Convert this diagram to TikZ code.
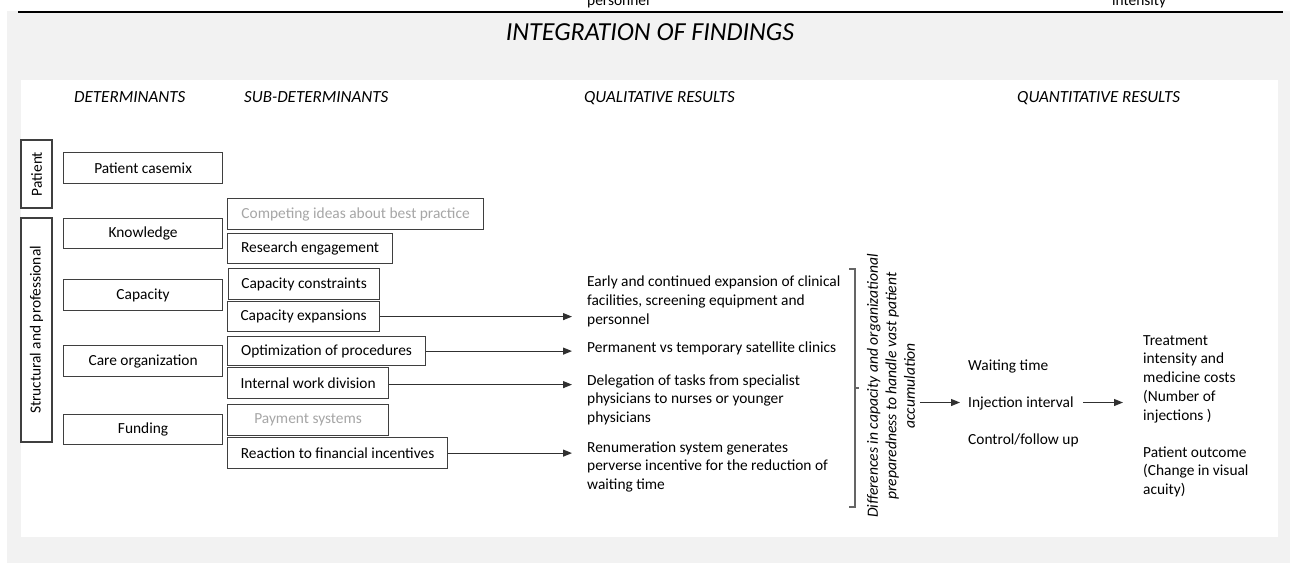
\documentclass[tikz,border=0pt]{standalone}
\usepackage{fontspec}
\setmainfont{Carlito}
\usetikzlibrary{arrows.meta,calc}
\definecolor{bggray}{HTML}{F2F2F2}
\definecolor{boxc}{HTML}{3F3F3F}
\definecolor{paletext}{HTML}{A6A6A6}
\definecolor{linec}{HTML}{303030}
\newcommand\bodyfnt{\fontsize{15.4}{18.7}\selectfont}
\newcommand\headfnt{\fontsize{17}{20}\selectfont\itshape}
\newcommand\titlefnt{\fontsize{26}{30}\selectfont\itshape}
\newcommand\rotfnt{\fontsize{15.6}{18.5}\selectfont\itshape}
\begin{document}
\begin{tikzpicture}[x=1pt,y=-1pt,
  box/.style={draw=boxc, line width=1.2pt, fill=white, inner sep=0pt, font=\bodyfnt, text=black, anchor=north west},
  palebox/.style={box, text=paletext},
  head/.style={font=\headfnt, inner sep=0pt, anchor=base west, text=black},
  txt/.style={font=\bodyfnt, inner sep=0pt, anchor=base west, align=left, text=black},
  arr/.style={draw=linec, line width=1.1pt, -{Triangle[length=9pt,width=7pt]}},
  brk/.style={draw=boxc!80, line width=1.2pt}
]
\useasboundingbox (0,0) rectangle (1290,563);
\clip (0,0) rectangle (1290,563);
% backgrounds
\fill[bggray] (7,11) rectangle (1290,563);
\fill[white] (21,80) rectangle (1278,537);
\draw[black, line width=2.5pt] (18,12) -- (1283,12);
% cut-off text of preceding content
\node[txt] (cutp) at (587,5) {personnel};
\node[txt] (cuti) at (1112,5) {intensity};
% title and headers
\node[font=\titlefnt, inner sep=0pt, anchor=base] (title) at (650,40.5) {INTEGRATION OF FINDINGS};
\node[head] (hdet) at (74,102.5) {DETERMINANTS};
\node[head] (hsub) at (244,102.5) {SUB-DETERMINANTS};
\node[head] (hqual) at (584,102.5) {QUALITATIVE RESULTS};
\node[head] (hquan) at (1017,102.5) {QUANTITATIVE RESULTS};
% left category boxes
\node[box, anchor=center, rotate=90, minimum width=68, minimum height=31] (pat) at (36.5,174) {Patient};
\node[box, anchor=center, rotate=90, minimum width=224, minimum height=31] (struc) at (36.5,330) {Structural and professional};
% determinants
\node[box, minimum width=159, minimum height=31] (pc) at (63,152) {Patient casemix};
\node[box, minimum width=159, minimum height=30] (kn) at (63,218) {Knowledge};
\node[box, minimum width=159, minimum height=31] (cap) at (63,279) {Capacity};
\node[box, minimum width=159, minimum height=31] (co) at (63,345) {Care organization};
\node[box, minimum width=159, minimum height=30] (fu) at (63,414) {Funding};
% sub-determinants
\node[palebox, minimum width=256, minimum height=31] (ci) at (227,198) {Competing ideas about best practice};
\node[box, minimum width=165, minimum height=30] (re) at (227,233) {Research engagement};
\node[box, minimum width=151, minimum height=31] (cc) at (228,268) {Capacity constraints};
\node[box, minimum width=152, minimum height=30] (ce) at (227,301) {Capacity expansions};
\node[box, minimum width=198, minimum height=29] (op) at (227,336) {Optimization of procedures};
\node[box, minimum width=161, minimum height=31] (iw) at (227,367) {Internal work division};
\node[palebox, minimum width=161, minimum height=31] (ps) at (227,404) {Payment systems};
\node[box, minimum width=220, minimum height=31] (rf) at (227,437) {Reaction to financial incentives};
% qualitative results (anchor = baseline of last line)
\node[txt] (q1) at (587,324) {Early and continued expansion of clinical\\facilities, screening equipment and\\personnel};
\node[txt] (q2) at (587,352.5) {Permanent vs temporary satellite clinics};
\node[txt] (q3) at (587,422.5) {Delegation of tasks from specialist\\physicians to nurses or younger\\physicians};
\node[txt] (q4) at (587,489.5) {Renumeration system generates\\perverse incentive for the reduction of\\waiting time};
% arrows to qualitative results
\draw[arr, shorten >=15pt] (ce.east) -- (ce.east -| q1.west);
\draw[arr, shorten >=15pt] (op.east) -- (op.east -| q2.west);
\draw[arr, shorten >=15pt] ([yshift=-1.5]iw.east) -- ([yshift=-1.5]iw.east -| q3.west);
\draw[arr, shorten >=15pt] (rf.east) -- (rf.east -| q4.west);
% bracket
\draw[brk] (849,269) -- (855,269) -- (855,507) -- (849,507);
\draw[brk] (855,388) -- (859,388);
% rotated explanation
\node[font=\rotfnt, align=center, rotate=90, inner sep=0pt] (diff) at (891,386) {Differences in capacity and organizational\\preparedness to handle vast patient\\accumulation};
% quantitative results
\node[txt] (wt) at (968,370) {Waiting time};
\node[txt] (ii) at (968,407) {Injection interval};
\node[txt] (cf) at (968,444) {Control/follow up};
\node[txt] (tr) at (1143,420) {Treatment\\intensity and\\medicine costs\\(Number of\\injections )};
\node[txt] (po) at (1143,494.5) {Patient outcome\\(Change in visual\\acuity)};
\coordinate (a1s) at (920,402.5);
\draw[arr, shorten >=8pt] (a1s) -- (a1s -| ii.west);
\coordinate (a2s) at (1083,402.5);
\draw[arr, shorten >=20pt] (a2s) -- (a2s -| tr.west);
\end{tikzpicture}
\end{document}
